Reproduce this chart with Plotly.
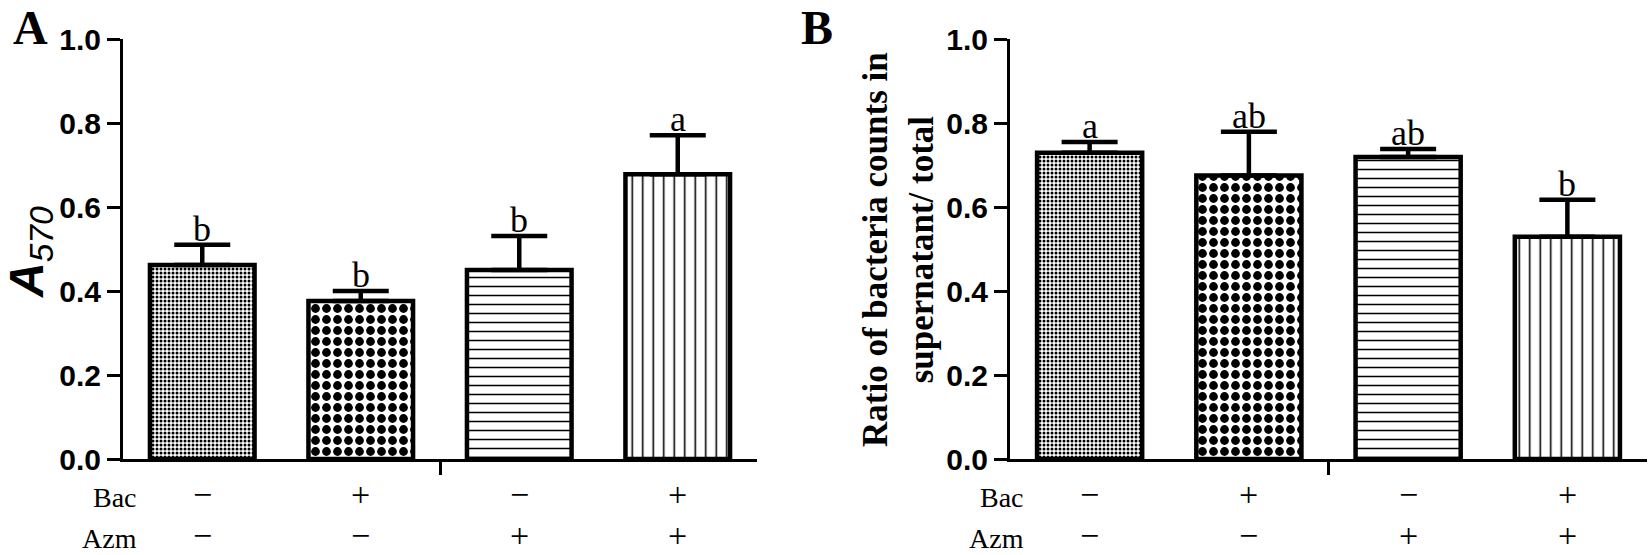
import plotly.graph_objects as go

# ---- data ----
groups = ["Control", "Bac", "Azm", "Bac+Azm"]
bac_signs = ["\u2212", "+", "\u2212", "+"]
azm_signs = ["\u2212", "\u2212", "+", "+"]

A_means = [0.462, 0.376, 0.450, 0.678]
A_err = [0.048, 0.024, 0.081, 0.093]
A_letters = ["b", "b", "b", "a"]

B_means = [0.729, 0.675, 0.719, 0.529]
B_err = [0.026, 0.104, 0.019, 0.088]
B_letters = ["a", "ab", "ab", "b"]

y_ticks = [0.0, 0.2, 0.4, 0.6, 0.8, 1.0]

# ---- style ----
W, H = 1652, 555
SERIF = "Liberation Serif"
SANS = "Liberation Sans"
pat_shapes = [".", ".", "-", "|"]
pat_sizes = [4, 11, 9, 10.5]
pat_solid = [0.45, 0.5, 0.17, 0.15]

xpos = list(range(len(groups)))

fig = go.Figure()


def add_panel(means, errs, xa, ya):
    fig.add_trace(go.Bar(
        x=xpos, y=means, width=0.66,
        xaxis=xa, yaxis=ya,
        marker=dict(
            color="white",
            line=dict(color="black", width=4.5),
            pattern=dict(shape=pat_shapes, size=pat_sizes, solidity=pat_solid,
                         fgcolor="black", bgcolor="white", fillmode="replace"),
        ),
        error_y=dict(type="data", array=errs, arrayminus=[0] * len(errs),
                     symmetric=False, thickness=4.5, width=28, color="black"),
        showlegend=False, hoverinfo="skip",
    ))


add_panel(A_means, A_err, "x", "y")
add_panel(B_means, B_err, "x2", "y2")

annotations = []


def add_letters(means, errs, letters, xr, yr):
    for i, (m, e, t) in enumerate(zip(means, errs, letters)):
        annotations.append(dict(x=xpos[i], y=m + e, xref=xr, yref=yr, text=t,
                                showarrow=False, yanchor="bottom", yshift=-6,
                                font=dict(family=SERIF, size=36, color="black")))


add_letters(A_means, A_err, A_letters, "x", "y")
add_letters(B_means, B_err, B_letters, "x2", "y2")


def add_bottom(xr):
    for i in xpos:
        annotations.append(dict(x=xpos[i], y=1 - 494 / H, xref=xr, yref="paper",
                                text=bac_signs[i], showarrow=False, yanchor="middle",
                                font=dict(family=SERIF, size=34, color="black")))
        annotations.append(dict(x=xpos[i], y=1 - 535 / H, xref=xr, yref="paper",
                                text=azm_signs[i], showarrow=False, yanchor="middle",
                                font=dict(family=SERIF, size=34, color="black")))
    annotations.append(dict(x=-0.4, y=1 - 497 / H, xref=xr, yref="paper", text="Bac",
                            showarrow=False, xanchor="right", yanchor="middle",
                            font=dict(family=SERIF, size=28, color="black")))
    annotations.append(dict(x=-0.4, y=1 - 538 / H, xref=xr, yref="paper", text="Azm",
                            showarrow=False, xanchor="right", yanchor="middle",
                            font=dict(family=SERIF, size=28, color="black")))


add_bottom("x")
add_bottom("x2")

# panel labels
annotations.append(dict(x=12 / W, y=1, xref="paper", yref="paper", text="<b>A</b>",
                        showarrow=False, xanchor="left", yanchor="top", borderpad=0,
                        font=dict(family=SERIF, size=48, color="black")))
annotations.append(dict(x=800 / W, y=1, xref="paper", yref="paper", text="<b>B</b>",
                        showarrow=False, xanchor="left", yanchor="top", borderpad=0,
                        font=dict(family=SERIF, size=48, color="black")))

# y-axis titles
annotations.append(dict(x=30 / W, y=1 - 252 / H, xref="paper", yref="paper",
                        text="<b><i>A</i></b><i><sub>570</sub></i>",
                        showarrow=False, textangle=-90, xanchor="center", yanchor="middle",
                        font=dict(family=SANS, size=48, color="black")))
annotations.append(dict(x=898 / W, y=1 - 250 / H, xref="paper", yref="paper",
                        text="<b>Ratio of bacteria counts in<br>supernatant/ total</b>",
                        showarrow=False, textangle=-90, xanchor="center", yanchor="middle",
                        font=dict(family=SERIF, size=35, color="black")))

ydom = [1 - 459 / H, 1 - 39 / H]
xaxis_common = dict(range=[-0.5, 3.5], showline=True, linewidth=3, linecolor="black",
                    tickvals=[1.5], ticks="outside", ticklen=13, tickwidth=3, tickcolor="black",
                    showticklabels=False, showgrid=False, zeroline=False, fixedrange=True)
yaxis_common = dict(range=[0, 1.0], tickvals=y_ticks, tickformat=".1f", ticks="outside",
                    ticklen=13, tickwidth=3, tickcolor="black", showline=True, linewidth=3,
                    linecolor="black", showgrid=False, zeroline=False, fixedrange=True,
                    tickfont=dict(family=SANS, size=30, color="black", weight="bold"),
                    domain=ydom)

fig.update_layout(
    width=W, height=H, autosize=False,
    margin=dict(l=0, r=0, t=0, b=0, autoexpand=False),
    paper_bgcolor="white", plot_bgcolor="white",
    xaxis=dict(domain=[123 / W, 757 / W], anchor="y", **xaxis_common),
    yaxis=dict(anchor="x", **yaxis_common),
    xaxis2=dict(domain=[1010 / W, 1647 / W], anchor="y2", **xaxis_common),
    yaxis2=dict(anchor="x2", **yaxis_common),
    annotations=annotations,
    bargap=0.3,
)

fig.write_html("out.html", config={"displayModeBar": False},
               post_script="document.body.style.margin='0px';document.body.style.overflow='hidden';")
